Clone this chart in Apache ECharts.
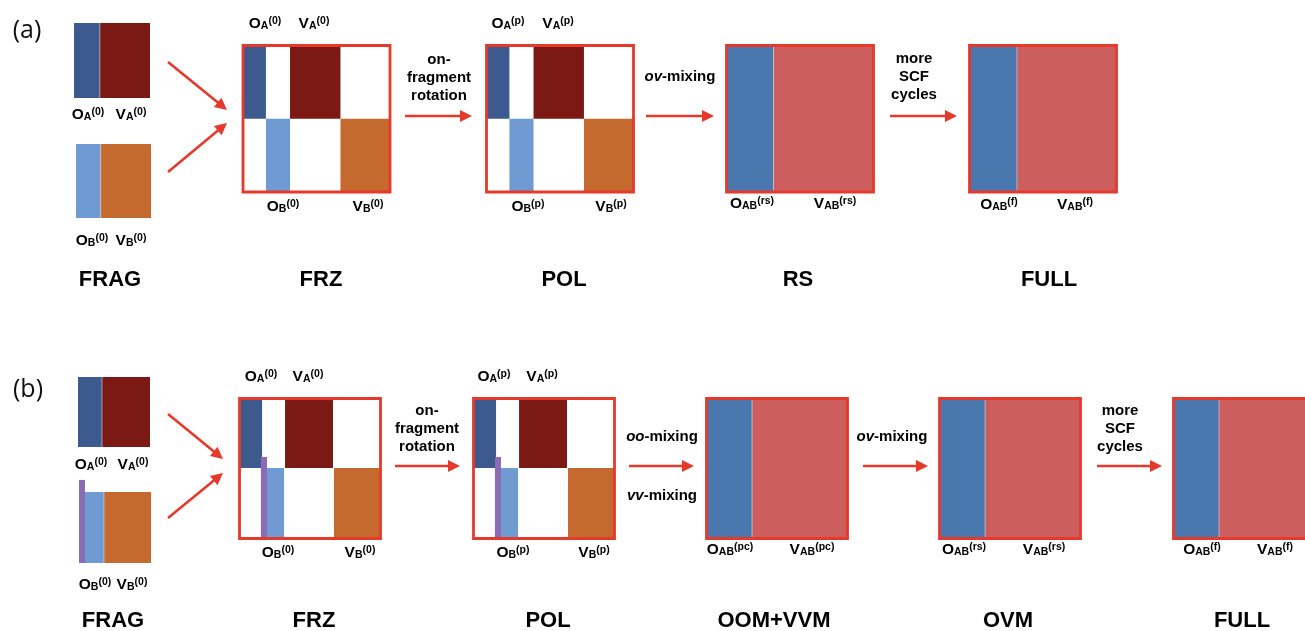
<!DOCTYPE html>
<html><head><meta charset="utf-8">
<script src="https://cdn.jsdelivr.net/npm/echarts@6/dist/echarts.min.js"></script>
<style>html,body{margin:0;padding:0;background:#fff}#c{width:1305px;height:631px}</style>
</head><body><div id="c"></div>
<script>
// ================= DATA =================
const panelTags = ['(a)', '(b)'];
const stagesA = ['FRAG', 'FRZ', 'POL', 'RS', 'FULL'];
const stagesB = ['FRAG', 'FRZ', 'POL', 'OOM+VVM', 'OVM', 'FULL'];
const stepsA = [['on-', 'fragment', 'rotation'], ['ov-mixing'], ['more', 'SCF', 'cycles']];
const stepsB = [['on-', 'fragment', 'rotation'], ['oo-mixing'], ['vv-mixing'], ['ov-mixing'], ['more', 'SCF', 'cycles']];
// orbital subspace labels: [letter, subscript, superscript]
const fragLabels = [['O', 'A', '(0)'], ['V', 'A', '(0)'], ['O', 'B', '(0)'], ['V', 'B', '(0)']];
const frzLabels = [['O', 'A', '(0)'], ['V', 'A', '(0)'], ['O', 'B', '(0)'], ['V', 'B', '(0)']];
const polLabels = [['O', 'A', '(p)'], ['V', 'A', '(p)'], ['O', 'B', '(p)'], ['V', 'B', '(p)']];
const mixedLabelsA = [[['O', 'AB', '(rs)'], ['V', 'AB', '(rs)']], [['O', 'AB', '(f)'], ['V', 'AB', '(f)']]];
const mixedLabelsB = [[['O', 'AB', '(pc)'], ['V', 'AB', '(pc)']], [['O', 'AB', '(rs)'], ['V', 'AB', '(rs)']], [['O', 'AB', '(f)'], ['V', 'AB', '(f)']]];
// occupied fraction of each fragment's orbital space (fragment A, fragment B)
const fragOccA = [0.34, 0.33];
const fragOccB = [0.333, 0.347];
// panel (b) extra (purple) subspace of fragment B: width fraction, extension above block (fraction of height)
const purpleFrag = [0.083, 0.17];
// block-diagonal matrix column splits (O_A | O_B | V_A | V_B) and row split
const diagColsA = [0.156, 0.32, 0.663];
const diagRowA = 0.5;
const diagColsB = [0.16, 0.195, 0.316, 0.323, 0.663, 0.67];
const purpleDiag = [0.152, 0.195, 0.418];
const diagRowB = 0.496;
// occupied fraction of supersystem orbitals in the mixed stages
const mixedOccA = [0.32, 0.323];
const mixedOccB = [0.323, 0.323, 0.323];

// ================= LAYOUT (positions in chart units) =================
const LA = {
  tag: [27, 31],
  fragA: [74, 23, 150, 98], fragB: [76, 144, 151, 218],
  fragLblA: [[88, 115], [131, 115]], fragLblB: [[92, 241], [131, 241]],
  boxes: [[243, 45.5, 390, 192], [486.5, 45.5, 633.5, 192], [726.5, 45.5, 873.5, 192], [969.5, 45.5, 1116.5, 192]],
  stageX: [110, 321, 564, 798, 1049], stageY: 280,
  diagTop: [[[265, 24], [314, 24]], [[508, 24], [558, 24]]],
  diagBot: [[[283, 207], [368, 207]], [[528, 207], [611, 207]]],
  mixLbl: [[[752, 204], [835, 204]], [[999, 205], [1075, 205]]],
  inArrows: [[168, 62, 227, 110], [168, 172, 227, 123]],
  arrows: [[405, 116, 472, 116], [646, 116, 714, 116], [890, 116, 957, 116]],
  stepPos: [[439, 78], [680, 77], [914, 77]]
};
const LB = {
  tag: [28, 390],
  fragA: [78, 377, 150, 447], fragB: [79, 492, 151, 563],
  fragLblA: [[91, 465], [133, 465]], fragLblB: [[95, 585], [132, 585]],
  boxes: [[239.5, 398.5, 380.5, 538.5], [473.5, 398.5, 614.5, 538.5], [706.5, 398.5, 847.5, 538.5], [939.5, 398.5, 1080.5, 538.5], [1173.5, 398.5, 1314.5, 538.5]],
  stageX: [113, 314, 548, 774, 1008, 1242], stageY: 621,
  diagTop: [[[261, 377], [308, 377]], [[494, 377], [542, 377]]],
  diagBot: [[[278, 553], [360, 553]], [[513, 553], [594, 553]]],
  mixLbl: [[[730, 550], [812, 550]], [[964, 550], [1044, 550]], [[1202, 550], [1275, 550]]],
  inArrows: [[168, 414, 223, 459], [168, 518, 223, 473]],
  arrows: [[395, 466, 460, 466], [629, 466, 694, 466], [863, 466, 928, 466], [1097, 466, 1162, 466]],
  stepPos: [[427, 429], [662, 437], [662, 496], [892, 437], [1120, 429]]
};

// ================= STYLES =================
const RED = '#e5392c';
const COL = ['#3c5a8e', '#7b1a15', '#6f9bd2', '#c46a2e', '#8a6cb6', '#4a77ae', '#cc5f5d'];
const SEP = 'rgba(225,230,240,0.55)';
const TXT = '#000000';
const FONT = 'Liberation Sans, Arial, sans-serif';
const RICH = {
  m: { fontSize: 15.5, fontWeight: 'bold', fontFamily: FONT, fill: TXT, color: TXT, lineHeight: 20 },
  s: { fontSize: 10.5, fontWeight: 'bold', fontFamily: FONT, fill: TXT, color: TXT, lineHeight: 20, padding: [3.6, 0, 0, 0] },
  p: { fontSize: 10.5, fontWeight: 'bold', fontFamily: FONT, fill: TXT, color: TXT, lineHeight: 20, padding: [0, 0, 5, 0] },
  t: { fontSize: 15, fontWeight: 'bold', fontFamily: FONT, fill: TXT, color: TXT, lineHeight: 18 },
  i: { fontSize: 15, fontWeight: 'bold', fontStyle: 'italic', fontFamily: FONT, fill: TXT, color: TXT, lineHeight: 18 },
  h: { fontSize: 22, fontWeight: 'bold', fontFamily: FONT, fill: TXT, color: TXT, lineHeight: 26 },
  g: { fontSize: 25, fontWeight: 'normal', fontFamily: 'Open Sans, Noto Sans, sans-serif', fill: '#111', color: '#111', lineHeight: 30 }
};

// ================= BUILD =================
const rects = [];
const seps = [];
function lerp(a, b, t) { return a + (b - a) * t; }
function sub(box, u0, u1, v0, v1, c) {
  rects.push([lerp(box[0], box[2], u0), lerp(box[1], box[3], v0), lerp(box[0], box[2], u1), lerp(box[1], box[3], v1), c]);
}
function sep(box, u, inset) {
  const x = lerp(box[0], box[2], u);
  seps.push([x, box[1] + inset, x, box[3] - inset]);
}
// panel (a)
sub(LA.fragA, 0, fragOccA[0], 0, 1, 0); sub(LA.fragA, fragOccA[0], 1, 0, 1, 1); sep(LA.fragA, fragOccA[0], 0);
sub(LA.fragB, 0, fragOccA[1], 0, 1, 2); sub(LA.fragB, fragOccA[1], 1, 0, 1, 3); sep(LA.fragB, fragOccA[1], 0);
[LA.boxes[0], LA.boxes[1]].forEach(box => {
  const s = diagColsA, r = diagRowA;
  sub(box, 0, s[0], 0, r, 0); sub(box, s[0], s[1], r, 1, 2);
  sub(box, s[1], s[2], 0, r, 1); sub(box, s[2], 1, r, 1, 3);
});
LA.boxes.slice(2).forEach((box, i) => { sub(box, 0, mixedOccA[i], 0, 1, 5); sub(box, mixedOccA[i], 1, 0, 1, 6); sep(box, mixedOccA[i], 1.4); });
// panel (b)
sub(LB.fragA, 0, fragOccB[0], 0, 1, 0); sub(LB.fragA, fragOccB[0], 1, 0, 1, 1); sep(LB.fragA, fragOccB[0], 0);
sub(LB.fragB, 0, purpleFrag[0], -purpleFrag[1], 1, 4);
sub(LB.fragB, purpleFrag[0], fragOccB[1], 0, 1, 2); sub(LB.fragB, fragOccB[1], 1, 0, 1, 3); sep(LB.fragB, fragOccB[1], 0);
[LB.boxes[0], LB.boxes[1]].forEach(box => {
  const c = diagColsB, r = diagRowB, p = purpleDiag;
  sub(box, 0, c[0], 0, r, 0); sub(box, c[1], c[2], r, 1, 2);
  sub(box, c[3], c[4], 0, r, 1); sub(box, c[5], 1, r, 1, 3);
  sub(box, p[0], p[1], p[2], 1, 4);
});
LB.boxes.slice(2).forEach((box, i) => { sub(box, 0, mixedOccB[i], 0, 1, 5); sub(box, mixedOccB[i], 1, 0, 1, 6); sep(box, mixedOccB[i], 1.4); });

const boxes = LA.boxes.concat(LB.boxes);
const arrows = LA.inArrows.concat(LA.arrows, LB.inArrows, LB.arrows);

// texts
const textPos = [];
const textFmt = [];
function addText(x, y, fmt) { textPos.push([x, y]); textFmt.push(fmt); }
function orb(l) { return `{m|${l[0]}}{s|${l[1]}}{p|${l[2]}}`; }
function step(lines) {
  return lines.map(t => {
    const k = t.indexOf('-mixing');
    return k > 0 ? `{i|${t.slice(0, k)}}{t|${t.slice(k)}}` : `{t|${t}}`;
  }).join('\n');
}
addText(LA.tag[0], LA.tag[1], `{g|${panelTags[0]}}`);
addText(LB.tag[0], LB.tag[1], `{g|${panelTags[1]}}`);
[[LA, stagesA, stepsA, [frzLabels, polLabels], mixedLabelsA], [LB, stagesB, stepsB, [frzLabels, polLabels], mixedLabelsB]].forEach(([L, stages, steps, diagL, mixL]) => {
  addText(L.fragLblA[0][0], L.fragLblA[0][1], orb(fragLabels[0]));
  addText(L.fragLblA[1][0], L.fragLblA[1][1], orb(fragLabels[1]));
  addText(L.fragLblB[0][0], L.fragLblB[0][1], orb(fragLabels[2]));
  addText(L.fragLblB[1][0], L.fragLblB[1][1], orb(fragLabels[3]));
  stages.forEach((s, i) => addText(L.stageX[i], L.stageY, `{h|${s}}`));
  steps.forEach((s, i) => addText(L.stepPos[i][0], L.stepPos[i][1], step(s)));
  diagL.forEach((labs, i) => {
    addText(L.diagTop[i][0][0], L.diagTop[i][0][1], orb(labs[0]));
    addText(L.diagTop[i][1][0], L.diagTop[i][1][1], orb(labs[1]));
    addText(L.diagBot[i][0][0], L.diagBot[i][0][1], orb(labs[2]));
    addText(L.diagBot[i][1][0], L.diagBot[i][1][1], orb(labs[3]));
  });
  mixL.forEach((labs, i) => {
    addText(L.mixLbl[i][0][0], L.mixLbl[i][0][1], orb(labs[0]));
    addText(L.mixLbl[i][1][0], L.mixLbl[i][1][1], orb(labs[1]));
  });
});

function rectRender(stylefn) {
  return (params, api) => {
    const p0 = api.coord([api.value(0), api.value(1)]);
    const p1 = api.coord([api.value(2), api.value(3)]);
    return { type: 'rect', shape: { x: p0[0], y: p0[1], width: p1[0] - p0[0], height: p1[1] - p0[1] }, style: stylefn(api) };
  };
}

const chart = echarts.init(document.getElementById('c'), null, { renderer: 'canvas' });
chart.setOption({
  animation: false,
  backgroundColor: '#ffffff',
  grid: { left: 0, right: 0, top: 0, bottom: 0 },
  xAxis: { type: 'value', min: 0, max: 1305, show: false },
  yAxis: { type: 'value', min: 0, max: 631, inverse: true, show: false },
  series: [
    { type: 'custom', silent: true, clip: false, data: rects,
      renderItem: rectRender(api => ({ fill: COL[api.value(4)] })) },
    { type: 'custom', silent: true, clip: false, data: seps,
      renderItem: (params, api) => {
        const a = api.coord([api.value(0), api.value(1)]);
        const b = api.coord([api.value(2), api.value(3)]);
        return { type: 'line', shape: { x1: a[0], y1: a[1], x2: b[0], y2: b[1] }, style: { stroke: SEP, lineWidth: 1 } };
      } },
    { type: 'custom', silent: true, clip: false, data: boxes,
      renderItem: rectRender(() => ({ fill: null, stroke: RED, lineWidth: 2.8 })) },
    {
      type: 'custom', silent: true, clip: false, data: arrows,
      renderItem: (params, api) => {
        const a = api.coord([api.value(0), api.value(1)]);
        const b = api.coord([api.value(2), api.value(3)]);
        const dx = b[0] - a[0], dy = b[1] - a[1], len = Math.hypot(dx, dy);
        const ux = dx / len, uy = dy / len, hl = 12, hw = 6;
        const bx = b[0] - ux * hl, by = b[1] - uy * hl;
        return { type: 'group', children: [
          { type: 'line', shape: { x1: a[0], y1: a[1], x2: bx + ux, y2: by + uy }, style: { stroke: RED, lineWidth: 2.6 } },
          { type: 'polygon', shape: { points: [[b[0], b[1]], [bx - uy * hw, by + ux * hw], [bx + uy * hw, by - ux * hw]] }, style: { fill: RED } }
        ] };
      }
    },
    {
      type: 'custom', silent: true, clip: false, data: textPos,
      renderItem: (params, api) => {
        const p = api.coord([api.value(0), api.value(1)]);
        return { type: 'text', x: p[0], y: p[1],
                 style: { text: textFmt[params.dataIndex], rich: RICH, fill: TXT, align: 'center', verticalAlign: 'middle',
                          fontFamily: FONT, fontWeight: 'bold', fontSize: 15, opacity: 1 } };
      }
    }
  ]
});
</script>
</body></html>
